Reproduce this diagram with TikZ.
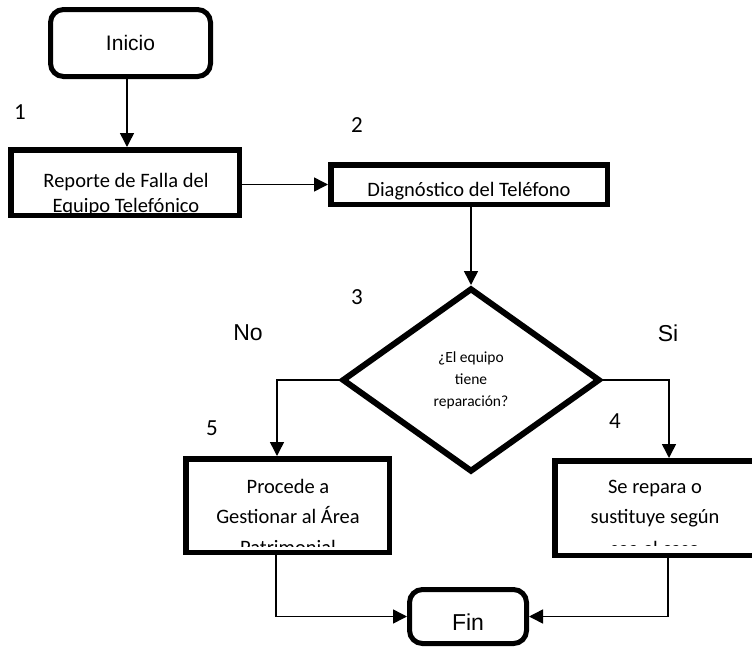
\documentclass[tikz,border=0pt]{standalone}
\usepackage{fontspec}
\setmainfont{Carlito}
\newfontfamily\arialfont{Liberation Sans}
\usetikzlibrary{shapes.geometric,arrows.meta}
\begin{document}
\begin{tikzpicture}[x=1pt,y=-1pt,
  procbox/.style={draw=black, line width=5.5pt, inner sep=0pt},
  termbox/.style={draw=black, line width=5pt, rounded corners=13pt, inner sep=0pt},
  decbox/.style={draw=black, diamond, line width=6pt, inner sep=0pt, aspect=1, align=center,
                 font=\fontsize{15.5}{22}\selectfont},
  flow/.style={line width=1.5pt, -{Triangle[length=14pt,width=14pt]}},
  boxtext/.style={font=\fontsize{20.5}{25}\selectfont, inner sep=0pt, anchor=base},
  steplabel/.style={font=\fontsize{23}{27}\selectfont, inner sep=0pt},
  answer/.style={font=\arialfont\fontsize{23}{27}\selectfont, inner sep=0pt}
]
\useasboundingbox (0,0) rectangle (752,648);

% terminals
\node[termbox, minimum width=160pt, minimum height=67pt,
      font=\arialfont\fontsize{21}{25}\selectfont] (inicio) at (130.5,43) {Inicio};
\node[termbox, minimum width=117pt, minimum height=54pt] (fin) at (468,616.5) {};
\node[answer] (fintext) at (468,622) {Fin};

% process boxes (text is cut off at the inner edge of each frame)
\begin{scope}
  \clip (13.5,152.5) rectangle (236.5,213);
  \node[boxtext] (rep1) at (126,187) {Reporte de Falla del};
  \node[boxtext] (rep2) at (126,212) {Equipo Telefónico};
\end{scope}
\node[procbox, minimum width=228.5pt, minimum height=65.5pt] (reporte) at (125,182.5) {};

\begin{scope}
  \clip (333.5,167.5) rectangle (604.5,201);
  \node[boxtext] (diag1) at (469,196) {Diagnóstico del Teléfono};
\end{scope}
\node[procbox, minimum width=276.5pt, minimum height=39.5pt] (diag) at (469,184.5) {};

\begin{scope}
  \clip (188.5,461.5) rectangle (386.5,546);
  \node[boxtext] (proc1) at (288,493) {Procede a};
  \node[boxtext] (proc2) at (288,523) {Gestionar al Área};
  \node[boxtext] (proc3) at (288,554) {Patrimonial};
\end{scope}
\node[procbox, minimum width=203.5pt, minimum height=93.5pt] (procede) at (287.5,505.5) {};

\begin{scope}
  \clip (557.5,463.5) rectangle (760,545.5);
  \node[boxtext] (rep3) at (655,493) {Se repara o};
  \node[boxtext] (rep4) at (655,523) {sustituye según};
  \node[boxtext] (rep5) at (655,555) {sea el caso};
\end{scope}
\node[procbox, minimum width=200.5pt, minimum height=94.5pt] (repara) at (655,508) {};

% decision
\node[decbox, minimum width=258pt, minimum height=184pt] (dia) at (471,380)
  {¿El equipo\\tiene\\reparación?};

% step numbers and answers
\node[steplabel] (n1) at (20,112) {1};
\node[steplabel] (n2) at (357,125) {2};
\node[steplabel] (n3) at (357,297) {3};
\node[steplabel] (n4) at (615,421) {4};
\node[steplabel] (n5) at (212,428) {5};
\node[answer] (no) at (248,333) {No};
\node[answer] (si) at (668,333) {Si};

% connectors
\draw[flow] ([xshift=-3.5pt]inicio.south) -- ([xshift=2pt]reporte.north);
\draw[flow] (reporte.east |- diag.west) -- (diag.west);
\draw[flow] (diag.south -| dia.north) -- (dia.north);
\draw[flow] (dia.west) -| ([xshift=-10.5pt]procede.north);
\draw[flow] (dia.east) -| ([xshift=14pt]repara.north);
\draw[flow] ([xshift=-11.5pt]procede.south) |- (fin.west);
\draw[flow] ([xshift=13pt]repara.south) |- (fin.east);
\end{tikzpicture}
\end{document}
